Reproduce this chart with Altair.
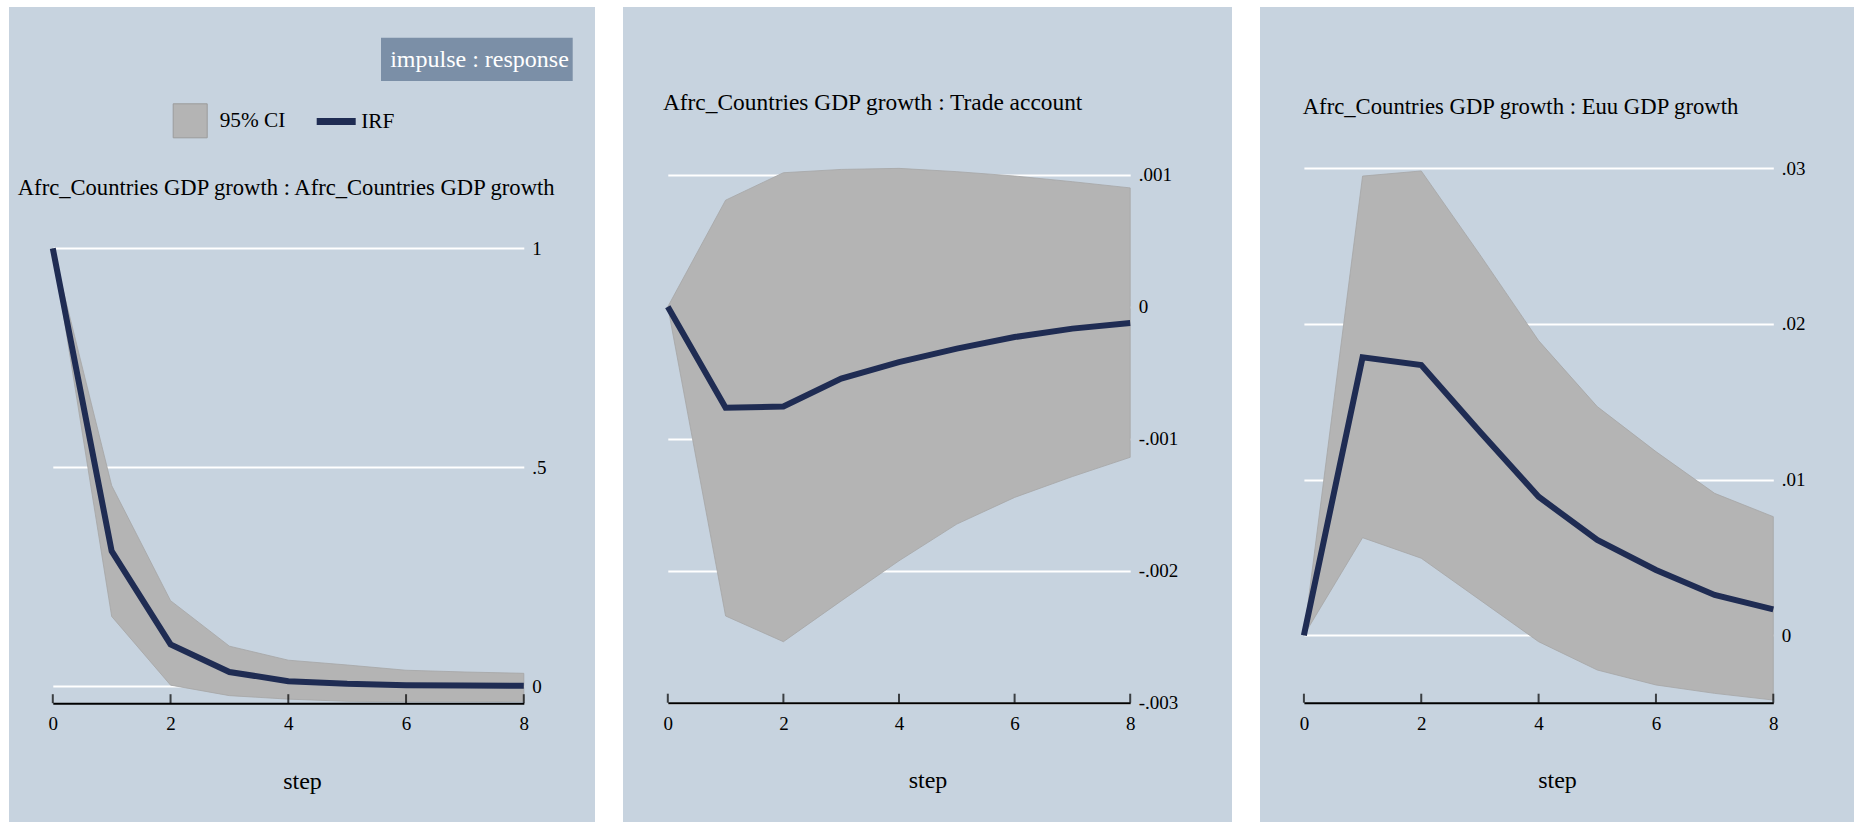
import altair as alt
import pandas as pd

# Horizon and tick positions shared by all three panels
STEPS = [0, 1, 2, 3, 4, 5, 6, 7, 8]
TICK_STEPS = [0, 2, 4, 6, 8]

# Afrc_Countries GDP growth : Afrc_Countries GDP growth
IRF_GDP = [1.0, 0.308, 0.095, 0.032, 0.011, 0.005, 0.002, 0.001, 0.0005]
LO_GDP = [1.0, 0.159, 0.002, -0.022, -0.030, -0.035, -0.036, -0.036, -0.035]
HI_GDP = [1.0, 0.458, 0.195, 0.091, 0.059, 0.048, 0.036, 0.032, 0.029]

# Afrc_Countries GDP growth : Trade account
IRF_TRADE = [0.0, -0.000765, -0.000756, -0.000545, -0.00042, -0.000318, -0.00023, -0.000166, -0.000124]
LO_TRADE = [0.0, -0.002343, -0.002538, -0.002229, -0.001925, -0.001647, -0.001445, -0.001287, -0.001141]
HI_TRADE = [0.0, 0.000807, 0.001015, 0.00104, 0.001048, 0.001023, 0.00099, 0.000947, 0.0009]

# Afrc_Countries GDP growth : Euu GDP growth
IRF_EU = [0.0, 0.01786, 0.01736, 0.01308, 0.0089, 0.00612, 0.0042, 0.00259, 0.00167]
LO_EU = [0.0, 0.00627, 0.00495, 0.00227, -0.00041, -0.00223, -0.00319, -0.00373, -0.00416]
HI_EU = [0.0, 0.0295, 0.02983, 0.02445, 0.01893, 0.01469, 0.0118, 0.00912, 0.00762]

TITLES = [
    "Afrc_Countries GDP growth : Afrc_Countries GDP growth",
    "Afrc_Countries GDP growth : Trade account",
    "Afrc_Countries GDP growth : Euu GDP growth",
]
Y_TICKS = [
    [0, 0.5, 1],
    [-0.003, -0.002, -0.001, 0, 0.001],
    [0, 0.01, 0.02, 0.03],
]
LEGEND_LABELS = ["95% CI", "IRF"]
NOTE = "impulse : response"
X_TITLE = "step"

PANEL_BG = "#c7d3df"
BAND = "#b4b4b4"
NAVY = "#1f2c53"
NOTE_BG = "#7b8fa7"
FONT = "Liberation Serif"
H = 815


def panel(irf, lo, hi, title, yticks, width, xrange, ydomain, yrange,
          title_fs, title_dx, title_y, legend=False):
    df = pd.DataFrame({
        "step": STEPS, "irf": irf, "lo": lo, "hi": hi,
        "band": LEGEND_LABELS[0], "line": LEGEND_LABELS[1],
    })
    ticks_df = pd.DataFrame({"step": TICK_STEPS, "base": ydomain[0]})

    xscale = alt.Scale(domain=[0, 8], range=xrange, nice=False, zero=False)
    yscale = alt.Scale(domain=ydomain, range=yrange, nice=False, zero=False)

    x_axis = alt.Axis(
        values=TICK_STEPS, orient="bottom", offset=yrange[0] - H,
        domain=True, domainColor="black", domainWidth=2,
        ticks=False, tickSize=0, grid=False,
        labelPadding=20.6, labelBaseline="middle", labelFlush=False,
        labelOverlap=False, labelFont=FONT, labelFontSize=19, labelColor="black",
        title=X_TITLE, titleFont=FONT, titleFontSize=24, titleFontWeight="normal",
        titleColor="black", titleX=width / 2, titleY=77.8,
        titleBaseline="middle", titleAlign="center",
    )
    y_axis = alt.Axis(
        values=yticks, orient="left", offset=-xrange[1],
        domain=False, ticks=False, tickSize=0, labelPadding=-8,
        labelAlign="left", labelBaseline="middle",
        labelExpr="replace(toString(datum.value), '0.', '.')",
        labelFont=FONT, labelFontSize=19, labelColor="black",
        labelOverlap=False, grid=True, gridColor="white", gridWidth=2,
        title=None,
    )

    def X(field):
        return alt.X(field, scale=xscale, axis=x_axis)

    def Y(field):
        return alt.Y(field, scale=yscale, axis=y_axis)

    if legend:
        band_fill = alt.Fill(
            "band:N",
            scale=alt.Scale(domain=[LEGEND_LABELS[0]], range=[BAND]),
            legend=alt.Legend(
                orient="none", legendX=163.7, legendY=96.3, title=None,
                padding=0, symbolType="square", symbolSize=1156,
                symbolStrokeColor="#9c9c9c", symbolStrokeWidth=1,
                symbolOpacity=1, labelFont=FONT, labelFontSize=21.3,
                labelColor="black", labelOffset=12,
            ),
        )
        line_stroke = alt.Stroke(
            "line:N",
            scale=alt.Scale(domain=[LEGEND_LABELS[1]], range=[NAVY]),
            legend=alt.Legend(
                orient="none", legendX=304.2, legendY=91.5, title=None,
                padding=0, symbolType="stroke", symbolSize=1521,
                symbolStrokeWidth=7, labelFont=FONT, labelFontSize=21.3,
                labelColor="black", labelOffset=2,
            ),
        )
    else:
        band_fill = alt.value(BAND)
        line_stroke = alt.value(NAVY)

    band = alt.Chart(df).mark_area(
        opacity=1, stroke="#a6a6a6", strokeWidth=0.8
    ).encode(x=X("step:Q"), y=Y("hi:Q"), y2="lo:Q", fill=band_fill)

    line = alt.Chart(df).mark_line(strokeWidth=6).encode(
        x=X("step:Q"), y=Y("irf:Q"), stroke=line_stroke
    )

    ticks = alt.Chart(ticks_df).mark_tick(
        orient="vertical", size=9, thickness=2, yOffset=-4.5, color="black"
    ).encode(x=X("step:Q"), y=Y("base:Q"))

    layers = [band, line, ticks]
    if legend:
        note_df = pd.DataFrame({"note": [NOTE]})
        note_box = alt.Chart(note_df).mark_rect(color=NOTE_BG).encode(
            x=alt.value(372), x2=alt.value(563.7),
            y=alt.value(30.7), y2=alt.value(74),
        )
        note_text = alt.Chart(note_df).mark_text(
            font=FONT, fontSize=24, color="white", align="center", baseline="middle"
        ).encode(x=alt.value(470.5), y=alt.value(53), text="note:N")
        layers += [note_box, note_text]

    return alt.layer(*layers).properties(
        width=width, height=H,
        title=alt.TitleParams(
            text=title, anchor="start", frame="group", orient="top",
            offset=-title_y, dx=title_dx, baseline="middle",
            font=FONT, fontSize=title_fs, fontWeight="normal", color="black",
        ),
    )


p1 = panel(IRF_GDP, LO_GDP, HI_GDP, TITLES[0], Y_TICKS[0], 586,
           [43.8, 514.8], [-0.0393, 1.0], [696.2, 241.4], 22.6, 8.8, 203.8,
           legend=True)
p2 = panel(IRF_TRADE, LO_TRADE, HI_TRADE, TITLES[1], Y_TICKS[1], 609,
           [44.8, 507.2], [-0.003, 0.001], [695.7, 167.7], 23.4, 39.9, 119.0)
p3 = panel(IRF_EU, LO_EU, HI_EU, TITLES[2], Y_TICKS[2], 594,
           [43.9, 513.3], [-0.00433, 0.03], [695.7, 161.3], 22.7, 42.7, 122.2)

chart = alt.hconcat(p1, p2, p3, spacing=28, bounds="flush").properties(
    padding={"left": 9, "top": 7, "right": 0, "bottom": 0},
    background="white",
).configure_view(fill=PANEL_BG, stroke=None)

chart.save("out.html", embed_options={"renderer": "svg", "actions": False})
